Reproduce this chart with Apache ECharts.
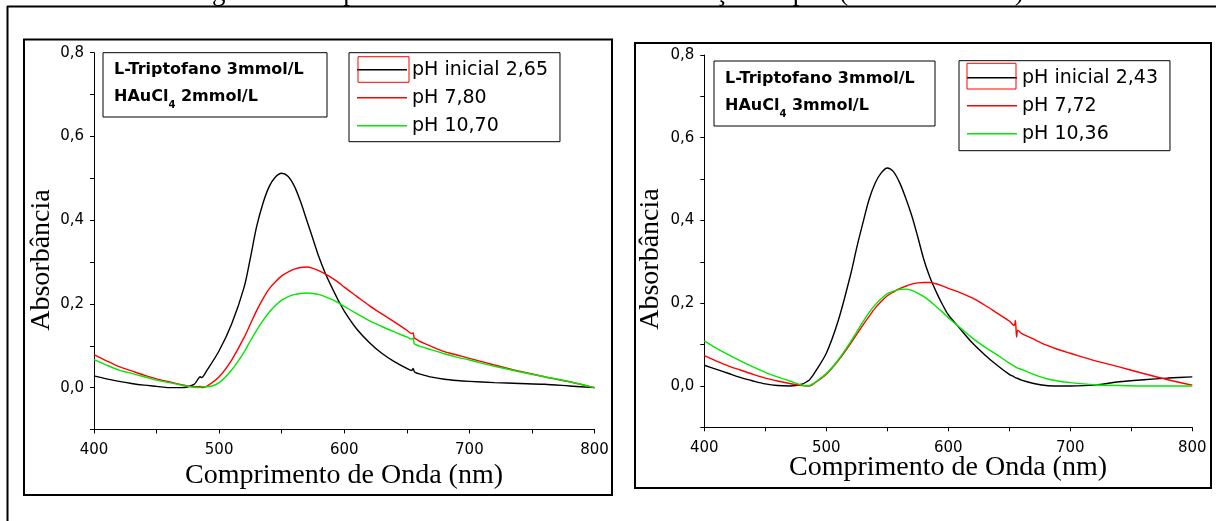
<!DOCTYPE html>
<html><head><meta charset="utf-8">
<script src="https://cdn.jsdelivr.net/npm/echarts/dist/echarts.min.js"></script>
<style>html,body{margin:0;padding:0;background:#fff;}#c{width:1216px;height:521px;}</style>
</head><body><div id="c"></div>
<script>
// wavelength grid (nm), shared by all series
const wavelengths = [400,410,420,430,440,450,460,470,480,485,486,490,500,510,520,525,530,535,540,545,550,555,560,565,570,575,580,585,590,595,600,610,620,630,640,650,654,655,656,657,660,670,680,690,700,720,740,760,780,800];

// left panel: L-Triptofano 3mmol/L, HAuCl4 2mmol/L
const leftNames = ['pH inicial 2,65','pH 7,80','pH 10,70'];
const leftBlack = [.028,.021,.015,.010,.006,.003,.000,.000,.008,.026,.024,.040,.088,.152,.240,.310,.385,.440,.480,.503,.512,.505,.482,.445,.400,.355,.310,.272,.240,.210,.183,.140,.108,.082,.062,.046,.041,.046,.038,.036,.033,.025,.020,.017,.015,.012,.010,.008,.004,.000];
const leftRed = [.079,.064,.050,.040,.030,.021,.014,.007,.002,.003,.000,.003,.026,.066,.120,.152,.184,.212,.236,.253,.267,.276,.283,.287,.288,.285,.279,.271,.262,.252,.240,.218,.196,.176,.157,.137,.129,.131,.118,.117,.111,.098,.086,.078,.070,.054,.039,.026,.014,.000];
const leftGreen = [.067,.054,.042,.034,.026,.018,.012,.006,.001,.000,.003,.002,.012,.042,.085,.112,.137,.160,.180,.196,.209,.217,.222,.225,.226,.225,.222,.217,.211,.203,.194,.177,.160,.146,.133,.121,.116,.118,.104,.103,.099,.090,.081,.073,.066,.051,.038,.026,.014,.000];

// right panel: L-Triptofano 3mmol/L, HAuCl4 3mmol/L
const rightNames = ['pH inicial 2,43','pH 7,72','pH 10,36'];
const rightBlack = [.050,.040,.030,.020,.012,.005,.001,.000,.004,.012,.014,.030,.079,.160,.270,.335,.394,.450,.490,.515,.527,.518,.492,.455,.412,.360,.305,.262,.228,.198,.172,.137,.103,.075,.050,.028,.022,.020,.019,.018,.014,.006,.001,.000,.000,.002,.010,.015,.019,.022];
const rightRed = [.073,.060,.048,.038,.028,.019,.012,.006,.001,.000,.000,.006,.028,.062,.103,.125,.147,.168,.188,.204,.218,.227,.235,.241,.246,.249,.250,.250,.247,.242,.236,.225,.212,.195,.176,.157,.146,.158,.118,.135,.127,.113,.099,.088,.079,.061,.046,.030,.015,.002];
const rightGreen = [.109,.091,.075,.060,.046,.033,.022,.012,.002,.000,.001,.007,.030,.064,.107,.131,.155,.177,.196,.211,.223,.229,.233,.234,.231,.224,.216,.205,.192,.179,.165,.140,.115,.094,.075,.055,.048,.046,.044,.043,.040,.028,.018,.012,.008,.003,.001,.000,.000,.000];

const xTicks = {min:400, max:800, step:50, labelEvery:100};
const yTicks = {min:-0.1, max:0.8, step:0.1};
const xTitle = 'Comprimento de Onda (nm)';
const yTitle = 'Absorbância';
const caption = 'Figura 23 - Espectros UV-vis das AuNPs em função do pH. (Diluídas a 20%).';

const colors = ['#000000','#ff0000','#00e800'];
const pair = (vals) => wavelengths.map((w,i)=>[w, vals[i]]);

const chart = echarts.init(document.getElementById('c'), null, {renderer:'canvas'});

function xAxis(gi){
  return {type:'value', gridIndex:gi, min:xTicks.min, max:xTicks.max, interval:xTicks.step,
    axisLine:{show:true, onZero:false, lineStyle:{color:'#000', width:1}},
    axisTick:{show:true, length:4, lineStyle:{color:'#000', width:1}},
    axisLabel:{margin:13, color:'#000', fontFamily:'DejaVu Sans', fontSize:15,
      formatter:v => (Math.round(v) % xTicks.labelEvery === 0 ? String(Math.round(v)) : '')},
    splitLine:{show:false}};
}
function yAxis(gi){
  return {type:'value', gridIndex:gi, min:yTicks.min, max:yTicks.max, interval:yTicks.step,
    axisLine:{show:true, onZero:false, lineStyle:{color:'#000', width:1}},
    axisTick:{show:true, length:4, lineStyle:{color:'#000', width:1}},
    axisLabel:{margin:10, color:'#000', fontFamily:'DejaVu Sans', fontSize:15,
      formatter:v => { const k = Math.round(v*10); return (k % 2 === 0) ? (k/10).toFixed(1).replace('.', ',') : ''; }},
    splitLine:{show:false}};
}
function series(name, vals, ci, gi){
  return {type:'line', name, xAxisIndex:gi, yAxisIndex:gi, data:pair(vals), symbol:'none',
    showSymbol:false, smooth:0.3, lineStyle:{color:colors[ci], width:1.4}, itemStyle:{color:colors[ci]},
    animation:false, z:3};
}
function legend(names, left, top, pad){
  return {orient:'vertical', left, top, data:names, borderColor:'#000', borderWidth:1,
    padding:pad, itemWidth:50, itemHeight:1.6, itemGap:6, backgroundColor:'#fff', icon:'rect',
    textStyle:{color:'#000', fontFamily:'DejaVu Sans', fontSize:19, lineHeight:22},
    selectedMode:false};
}
const boldFont = 'bold 16px "DejaVu Sans"';
const subFont = 'bold 10px "DejaVu Sans"';
function infoBox(x, y, w, h, tx, y1, y2, conc){
  return [
    {type:'rect', shape:{x, y, width:w, height:h}, style:{fill:'#fff', stroke:'#000', lineWidth:1}, z:10},
    {type:'text', x:tx, y:y1, style:{text:'L-Triptofano 3mmol/L', font:boldFont, fill:'#000', textVerticalAlign:'middle'}, z:11},
    {type:'text', x:tx, y:y2, style:{text:'{a|HAuCl}{s|4}{a| ' + conc + '}', fill:'#000', textVerticalAlign:'middle',
      rich:{a:{font:boldFont, fill:'#000', lineHeight:26, verticalAlign:'middle'}, s:{font:subFont, fill:'#000', lineHeight:26, verticalAlign:'bottom'}}}, z:11}
  ];
}

const option = {
  animation:false,
  backgroundColor:'#fff',
  grid:[
    {left:94, right:1216-594.5, top:52.7, bottom:521-429.5, containLabel:false},
    {left:704.3, right:1216-1192.3, top:55, bottom:521-427.3, containLabel:false}
  ],
  xAxis:[xAxis(0), xAxis(1)],
  yAxis:[yAxis(0), yAxis(1)],
  legend:[
    legend(leftNames, 349, 52.7, [6,12,5,8]),
    legend(rightNames, 959, 60.7, [6,12,6,8])
  ],
  series:[
    series(leftNames[0], leftBlack, 0, 0),
    series(leftNames[1], leftRed, 1, 0),
    series(leftNames[2], leftGreen, 2, 0),
    series(rightNames[0], rightBlack, 0, 1),
    series(rightNames[1], rightRed, 1, 1),
    series(rightNames[2], rightGreen, 2, 1)
  ],
  graphic:[
    // caption (cut off at the top of the page)
    {type:'text', x:610, y:6, style:{text:caption, font:'27px "Liberation Serif"', fill:'#000', textAlign:'center', textVerticalAlign:'bottom'}},
    // outer frame
    {type:'line', shape:{x1:7, y1:6.5, x2:1216, y2:6.5}, style:{stroke:'#000', lineWidth:2}, z:5},
    {type:'line', shape:{x1:7.5, y1:6, x2:7.5, y2:521}, style:{stroke:'#000', lineWidth:2}, z:5},
    // panel frames
    {type:'rect', shape:{x:24, y:39.5, width:588, height:455.5}, style:{fill:'none', stroke:'#000', lineWidth:2}},
    {type:'rect', shape:{x:635, y:43, width:576, height:445}, style:{fill:'none', stroke:'#000', lineWidth:2}},
    // axis titles
    {type:'text', x:344, y:476, style:{text:xTitle, font:'28px "Liberation Serif"', fill:'#000', textAlign:'center', textVerticalAlign:'middle'}},
    {type:'text', x:948, y:468, style:{text:xTitle, font:'28px "Liberation Serif"', fill:'#000', textAlign:'center', textVerticalAlign:'middle'}},
    {type:'text', x:42, y:260, rotation:Math.PI/2, style:{text:yTitle, font:'28px "Liberation Serif"', fill:'#000', textAlign:'center', textVerticalAlign:'middle'}},
    {type:'text', x:651, y:259, rotation:Math.PI/2, style:{text:yTitle, font:'28px "Liberation Serif"', fill:'#000', textAlign:'center', textVerticalAlign:'middle'}},
    // info boxes
    ...infoBox(103, 52.7, 224, 64.3, 114, 70, 97, '2mmol/L'),
    ...infoBox(714, 61, 221, 65, 725, 79, 106, '3mmol/L'),
    // red selection rectangles around first legend sample
    {type:'rect', shape:{x:358, y:56.7, width:51, height:25.6}, style:{fill:'none', stroke:'#ff0000', lineWidth:1}, z:20},
    {type:'rect', shape:{x:967, y:63.3, width:49, height:25.7}, style:{fill:'none', stroke:'#ff0000', lineWidth:1}, z:20}
  ]
};
chart.setOption(option);
</script></body></html>
